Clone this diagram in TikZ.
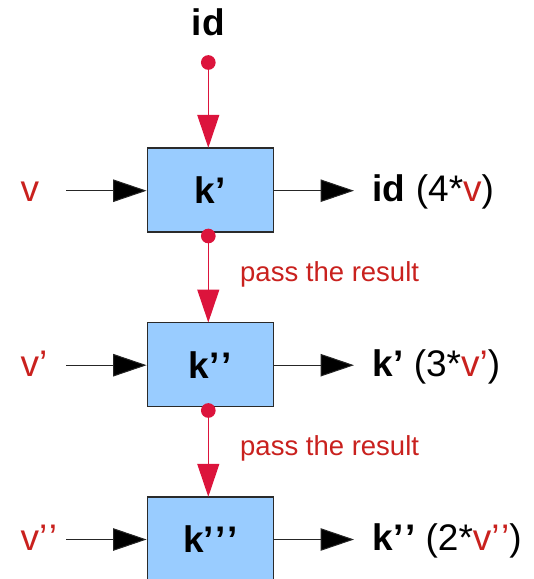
\documentclass[tikz,border=0pt]{standalone}
\usepackage{fontspec}
\setmainfont{Liberation Sans}
\usetikzlibrary{arrows.meta}
\definecolor{txtred}{HTML}{C9211E}
\definecolor{crim}{HTML}{DC143C}
\definecolor{boxfill}{HTML}{99CCFF}
\definecolor{boxline}{HTML}{2A2A2A}
\newcommand{\qq}{’\kern1.5pt’}
\newcommand{\qqq}{’\kern1.5pt’\kern1.5pt’}
\tikzset{
  kbox/.style={draw=boxline, fill=boxfill, line width=1.4pt, minimum width=126pt, minimum height=84pt, inner sep=0pt, font=\fontsize{37}{44}\selectfont\bfseries},
  lbl/.style={inner sep=0pt, font=\fontsize{37}{44}\selectfont},
  passlbl/.style={inner sep=0pt, text=txtred, font=\fontsize{27.5}{33}\selectfont, anchor=base west},
  rdot/.style={circle, fill=crim, minimum size=14.7pt, inner sep=0pt},
  redarrow/.style={draw=crim, line width=1.3pt, -{Triangle[length=33pt,width=22pt]}, shorten >=-0.5pt},
  blkarrow/.style={draw=black!85, line width=1pt, -{Triangle[length=33.5pt,width=22.5pt,fill=black]}}
}
\begin{document}
\begin{tikzpicture}[x=1pt,y=-1pt]
\useasboundingbox (0,0) rectangle (534,579);
% boxes
\node[kbox] (k1) at (210.3,190) {k’};
\node[kbox] (k2) at (210.3,364.7) {k\qq};
\node[kbox] (k3) at (210.3,539) {k\qqq};
% top id
\node[lbl, font=\fontsize{37}{44}\selectfont\bfseries] (id) at (208.3,22.5) {id};
% red dots
\node[rdot] (d0) at (208.3,62.5) {};
\node[rdot] (d1) at (208.3,236) {};
\node[rdot] (d2) at (208.3,410.5) {};
\draw[redarrow] (d0.center) -- (d0 |- k1.north);
\draw[redarrow] (d1.center) -- (d1 |- k2.north);
\draw[redarrow] (d2.center) -- (d2 |- k3.north);
% pass the result
\node[passlbl] (p1) at (240,281) {pass the result};
\node[passlbl] (p2) at (240,455.5) {pass the result};
% left inputs
\node[lbl, anchor=base west, text=txtred] (v1) at (20.5,201.5) {v};
\node[lbl, anchor=base west, text=txtred] (v2) at (20.5,376.2) {v’};
\node[lbl, anchor=base west, text=txtred] (v3) at (20.5,550.5) {v\qq};
\coordinate (a1) at (66,190.7);
\coordinate (a2) at (66,365.2);
\coordinate (a3) at (66,539.5);
\draw[blkarrow] (a1) -- (a1 -| k1.west);
\draw[blkarrow] (a2) -- (a2 -| k2.west);
\draw[blkarrow] (a3) -- (a3 -| k3.west);
% right outputs
\coordinate (b1) at (354,190.7);
\coordinate (b2) at (354,365.2);
\coordinate (b3) at (354,539.5);
\draw[blkarrow] (b1 -| k1.east) -- (b1);
\draw[blkarrow] (b2 -| k2.east) -- (b2);
\draw[blkarrow] (b3 -| k3.east) -- (b3);
\node[lbl, anchor=base west] (o1) at (372.5,201.5) {\textbf{id} (4*\textcolor{txtred}{v})};
\node[lbl, anchor=base west] (o2) at (372.5,376.2) {\textbf{k’} (3*\textcolor{txtred}{v’})};
\node[lbl, anchor=base west] (o3) at (372.5,550.5) {\textbf{k\qq} (2*\textcolor{txtred}{v\qq})};
\end{tikzpicture}
\end{document}
